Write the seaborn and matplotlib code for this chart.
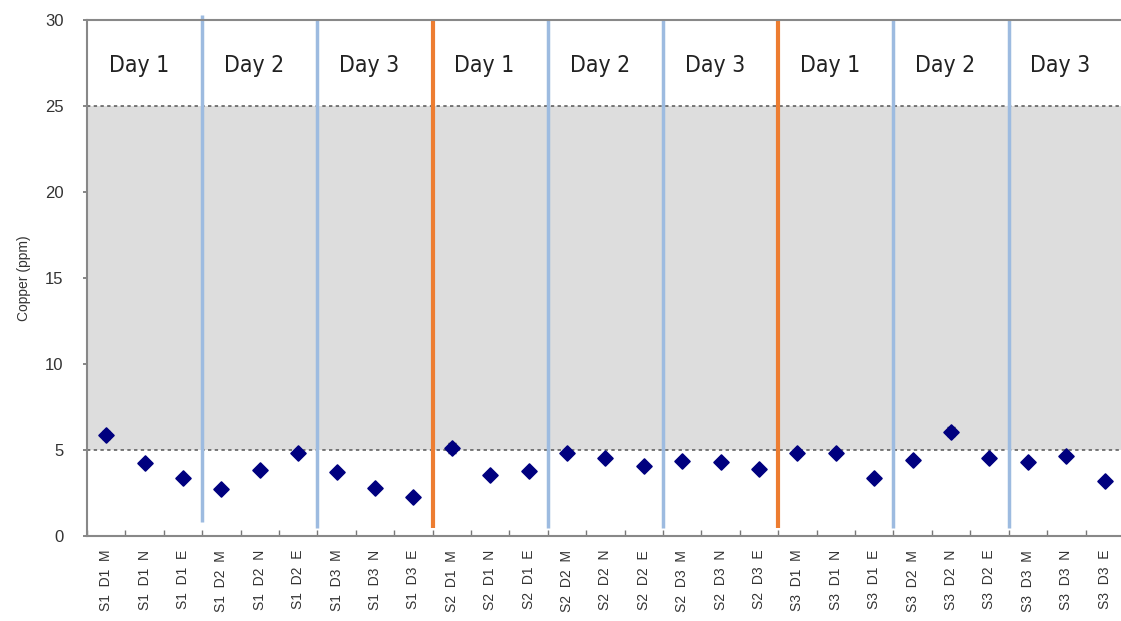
import matplotlib
matplotlib.use("Agg")
import matplotlib.pyplot as plt
import seaborn as sns
import pandas as pd
import numpy as np

# Sample labels: site, day, time of day (Morning / Noon / Evening)
samples = [
    "S1 D1 M", "S1 D1 N", "S1 D1 E", "S1 D2 M", "S1 D2 N", "S1 D2 E",
    "S1 D3 M", "S1 D3 N", "S1 D3 E",
    "S2 D1 M", "S2 D1 N", "S2 D1 E", "S2 D2 M", "S2 D2 N", "S2 D2 E",
    "S2 D3 M", "S2 D3 N", "S2 D3 E",
    "S3 D1 M", "S3 D1 N", "S3 D1 E", "S3 D2 M", "S3 D2 N", "S3 D2 E",
    "S3 D3 M", "S3 D3 N", "S3 D3 E",
]
# Mean copper concentration (ppm)
copper = [
    5.87, 4.23, 3.39, 2.73, 3.84, 4.81, 3.70, 2.77, 2.29,
    5.10, 3.55, 3.78, 4.81, 4.52, 4.07, 4.36, 4.32, 3.88,
    4.81, 4.81, 3.35, 4.42, 6.07, 4.52, 4.28, 4.65, 3.22,
]
# Standard deviation of replicate measurements (ppm)
copper_sd = [
    0.22, 0.15, 0.12, 0.12, 0.18, 0.15, 0.12, 0.10, 0.10,
    0.30, 0.12, 0.12, 0.15, 0.15, 0.12, 0.15, 0.12, 0.12,
    0.15, 0.18, 0.10, 0.15, 0.28, 0.15, 0.12, 0.15, 0.10,
]
day_labels = ["Day 1", "Day 2", "Day 3"] * 3

# Acceptable range (ppm)
range_low, range_high = 5, 25

df = pd.DataFrame({"sample": samples, "copper": copper, "sd": copper_sd})
df["pos"] = np.arange(len(df))

sns.set_theme(style="white")
plt.rcParams["font.family"] = ["Liberation Sans", "DejaVu Sans"]

fig = plt.figure(figsize=(11.21, 6.21), dpi=100)
ax = fig.add_axes([0.0776, 0.137, 0.925, 0.831])

n = len(samples)
ax.set_xlim(-0.5, n - 0.5)
ax.set_ylim(0, 30)

# Acceptable band and its limits
ax.axhspan(range_low, range_high, color="#dddddd", zorder=0, lw=0)
for yv in (range_low, range_high):
    ax.axhline(yv, color="#555555", lw=1.1, ls=(0, (2.2, 2.2)), zorder=1)

# Separators: days (blue) and sites (orange)
for i in range(1, 9):
    xb = i * 3 - 0.5
    if i % 3 == 0:
        ax.plot([xb, xb], [0.45, 30], color="#ed7d31", lw=3, zorder=2,
                solid_capstyle="butt")
    else:
        top = 30.3 if i == 1 else 30
        bot = 0.8 if i == 1 else 0.45
        ax.plot([xb, xb], [bot, top], color="#9dbbe0", lw=2.5, zorder=2,
                clip_on=False, solid_capstyle="butt")

# Day headings
for k, lab in enumerate(day_labels):
    ax.text(k * 3 + 0.85, 27.35, lab, ha="center", va="center",
            fontsize=16.5, color="#222222",
            family=["DejaVu Sans"], fontstretch="condensed")

# Error bars and means
ax.errorbar(df["pos"], df["copper"], yerr=df["sd"], fmt="none",
            ecolor="#333333", elinewidth=1, capsize=3, zorder=3)
sns.scatterplot(data=df, x="pos", y="copper", marker="D", s=58,
                color="#00007f", edgecolor="#00007f", linewidth=1.2,
                ax=ax, zorder=4, legend=False)

ax.set_xticks(df["pos"])
ax.set_xticklabels([s.replace(" ", "  ") for s in samples], rotation=90,
                   fontsize=10, color="#333333")
ax.set_xticks(np.arange(-0.5, n, 1), minor=True)
ax.tick_params(axis="x", which="major", length=0, pad=10)
ax.tick_params(axis="x", which="minor", direction="in", length=4,
               color="#777777", width=1, bottom=True)
ax.set_yticks(range(0, 31, 5))
ax.tick_params(axis="y", which="major", length=3, direction="out",
               color="#777777", labelsize=12, labelcolor="#333333", left=True,
               pad=14)
ax.set_xlabel("")
ax.set_ylabel("Copper (ppm)", fontsize=10, color="#333333", labelpad=10)

for side in ("left", "bottom", "top"):
    ax.spines[side].set_color("#888888")
    ax.spines[side].set_linewidth(1.5)
ax.spines["right"].set_visible(False)

fig.savefig("out.png", dpi=100)
